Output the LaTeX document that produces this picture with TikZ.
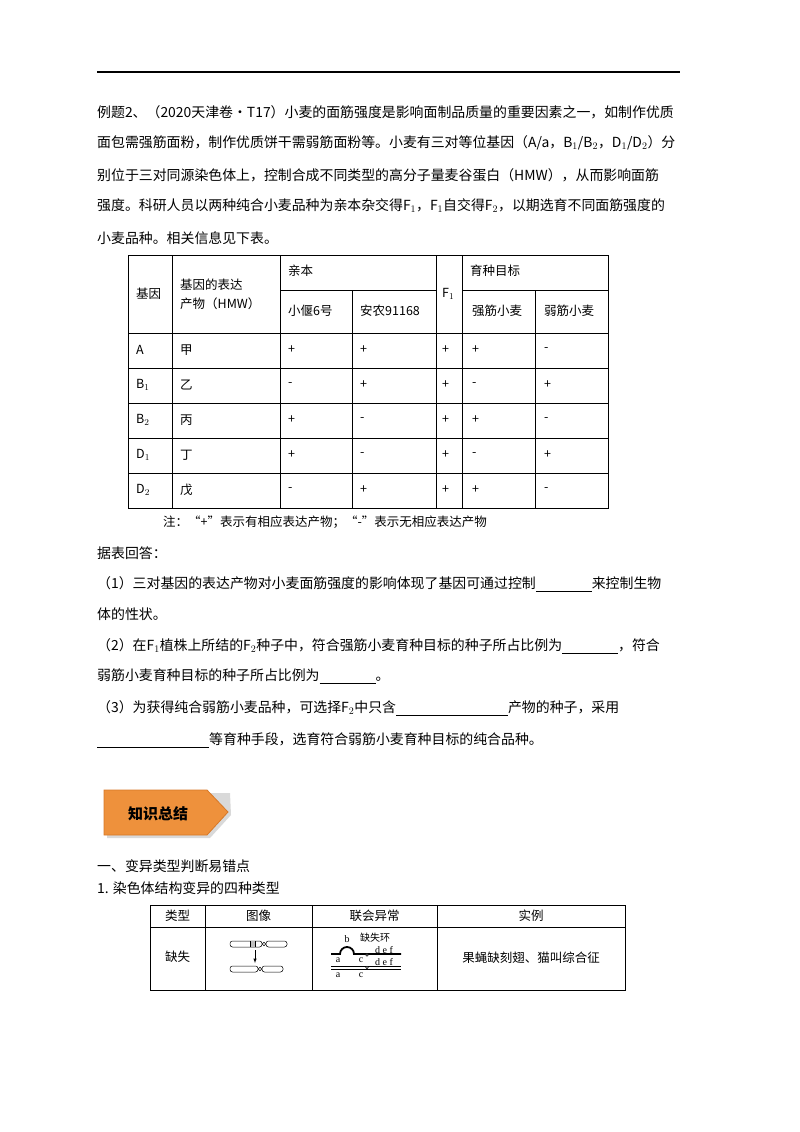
\documentclass[tikz,border=0pt]{standalone}
\usepackage{fontspec}
\setmainfont{Noto Sans CJK SC}
\newfontfamily\lser{Liberation Serif}
\newcommand{\blk}[1]{\rule[-3pt]{#1}{0.6pt}}
\begin{document}
\begin{tikzpicture}[x=1pt,y=-1pt,font=\fontsize{13.9}{16}\selectfont,
 tx/.style={anchor=west,inner sep=0pt},
 cl/.style={anchor=west,inner sep=0pt,font=\fontsize{12.5}{15}\selectfont},
 tl/.style={line width=0.8pt},
 sm/.style={font=\lser\fontsize{10}{10}\selectfont,inner sep=0pt}]
\useasboundingbox (0,0) rectangle (800,1132);
\draw[line width=1.2pt] (97,72) -- (680,72);
\node[tx] (l1) at (97,112) {例题2、（2020天津卷·T17）小麦的面筋强度是影响面制品质量的重要因素之一，如制作优质};
\node[tx] (l2) at (97,143) {面包需强筋面粉，制作优质饼干需弱筋面粉等。小麦有三对等位基因（A/a，B$_1$/B$_2$，D$_1$/D$_2$）分};
\node[tx] (l3) at (97,175) {别位于三对同源染色体上，控制合成不同类型的高分子量麦谷蛋白（HMW），从而影响面筋};
\node[tx] (l4) at (97,206) {强度。科研人员以两种纯合小麦品种为亲本杂交得F$_1$，F$_1$自交得F$_2$，以期选育不同面筋强度的};
\node[tx] (l5) at (97,238) {小麦品种。相关信息见下表。};
% table 1
\draw[tl] (128,255) rectangle (608,508);
\foreach \y in {333,368,403,438,473} \draw[tl] (128,\y) -- (608,\y);
\draw[tl] (280,290) -- (436,290); \draw[tl] (462,290) -- (608,290);
\foreach \x in {172,280,436,462} \draw[tl] (\x,255) -- (\x,508);
\draw[tl] (352,290) -- (352,508); \draw[tl] (535,290) -- (535,508);
\node[cl] (h1) at (136,294) {基因};
\node[cl,align=left] (h2) at (180,294) {基因的表达\\[4pt]产物（HMW）};
\node[cl] (h3) at (288,271) {亲本};
\node[cl] (h4) at (470,271) {育种目标};
\node[cl] (h5) at (442,294) {F$_1$};
\node[cl] (h6) at (288,311) {小偃6号};
\node[cl] (h7) at (360,311) {安农91168};
\node[cl] (h8) at (472,311) {强筋小麦};
\node[cl] (h9) at (544,311) {弱筋小麦};
\foreach \g/\p/\a/\b/\f/\s/\w [count=\i] in {A/甲/+/+/+/+/-, B$_1$/乙/-/+/+/-/+, B$_2$/丙/+/-/+/+/-, D$_1$/丁/+/-/+/-/+, D$_2$/戊/-/+/+/+/-}{
 \pgfmathsetmacro\yy{350+35*(\i-1)}
 \node[cl] (g\i) at (136,\yy) {\g};
 \node[cl] (p\i) at (180,\yy) {\p};
 \node[cl] (a\i) at (288,\yy) {\a};
 \node[cl] (b\i) at (360,\yy) {\b};
 \node[cl] (f\i) at (442,\yy) {\f};
 \node[cl] (s\i) at (472,\yy) {\s};
 \node[cl] (w\i) at (544,\yy) {\w};
}
\node[cl] (note) at (163,522) {注：“+”表示有相应表达产物；“-”表示无相应表达产物};
\node[tx] (q0) at (97,553) {据表回答：};
\node[tx] (q1) at (97,584) {（1）三对基因的表达产物对小麦面筋强度的影响体现了基因可通过控制\blk{56pt}来控制生物};
\node[tx] (q1b) at (97,614) {体的性状。};
\node[tx] (q2) at (97,646) {（2）在F$_1$植株上所结的F$_2$种子中，符合强筋小麦育种目标的种子所占比例为\blk{56pt}，符合};
\node[tx] (q2b) at (97,676) {弱筋小麦育种目标的种子所占比例为\blk{56pt}。};
\node[tx] (q3) at (97,708) {（3）为获得纯合弱筋小麦品种，可选择F$_2$中只含\blk{112pt}产物的种子，采用};
\node[tx] (q3b) at (97,740) {\blk{112pt}等育种手段，选育符合弱筋小麦育种目标的纯合品种。};
% banner
\fill[black!15] (107,793) -- (230,793) -- (231,815) -- (210,838) -- (107,838) -- cycle;
\draw[fill={rgb,255:red,238;green,145;blue,60},draw={rgb,255:red,215;green,120;blue,40},line width=0.8pt] (104,790) -- (207,790) -- (228,812) -- (207,835) -- (104,835) -- cycle;
\node[inner sep=0pt,font=\fontsize{15}{18}\selectfont\bfseries] (ban) at (158,814) {知识总结};
\node[tx] (s1) at (97,866) {一、变异类型判断易错点};
\node[tx] (s2) at (97,888) {1. 染色体结构变异的四种类型};
% table 2
\draw[tl] (150,905) rectangle (625,990);
\draw[tl] (150,927) -- (625,927);
\foreach \x in {205,312,437} \draw[tl] (\x,905) -- (\x,990);
\node[cl] (t1) at (177.5,916) [anchor=center] {类型};
\node[cl] (t2) at (258.5,916) [anchor=center] {图像};
\node[cl] (t3) at (374.5,916) [anchor=center] {联会异常};
\node[cl] (t4) at (531,916) [anchor=center] {实例};
\node[cl] (t5) at (177.5,957) [anchor=center] {缺失};
\node[cl] (t6) at (531,958) [anchor=center] {果蝇缺刻翅、猫叫综合征};
% chromosome picture
\draw[line width=0.5pt,rounded corners=2.5pt] (230,941) rectangle (262,947);
\fill[gray!50] (250,941) rectangle (255,947);
\draw[line width=0.5pt] (250,941) -- (250,947) (255,941)--(255,947);
\draw[line width=0.5pt] (264,944) circle (1.8);
\draw[line width=0.5pt,rounded corners=2.5pt] (266,941) rectangle (287,947);
\coordinate (ar1) at (255,950); \coordinate (ar2) at (255,963);
\draw[-latex,line width=0.5pt] (ar1) -- (ar2);
\draw[line width=0.5pt,rounded corners=2.5pt] (230,966) rectangle (258,972);
\draw[line width=0.5pt] (260,969) circle (1.8);
\draw[line width=0.5pt,rounded corners=2.5pt] (262,966) rectangle (283,972);
% synapsis
\draw[line width=1.8pt] (331,954) -- (340,954) arc (180:360:7) -- (401,954);
\draw[line width=0.5pt] (331,966) -- (401,966) (331,969) -- (401,969);
\draw[line width=0.5pt,fill=white] (367,955) circle (1.3) (367,967.5) circle (1.3);
\node[sm] (lb) at (347,939) {b};
\node[font=\fontsize{10}{10}\selectfont,inner sep=0pt] (lq) at (375,938) {缺失环};
\node[sm] (ld1) at (384,950) {d e f};
\node[sm] (la1) at (338,960) {a};
\node[sm] (lc1) at (361,960) {c};
\node[sm] (ld2) at (384,962) {d e f};
\node[sm] (la2) at (338,975) {a};
\node[sm] (lc2) at (361,975) {c};
\end{tikzpicture}
\end{document}
